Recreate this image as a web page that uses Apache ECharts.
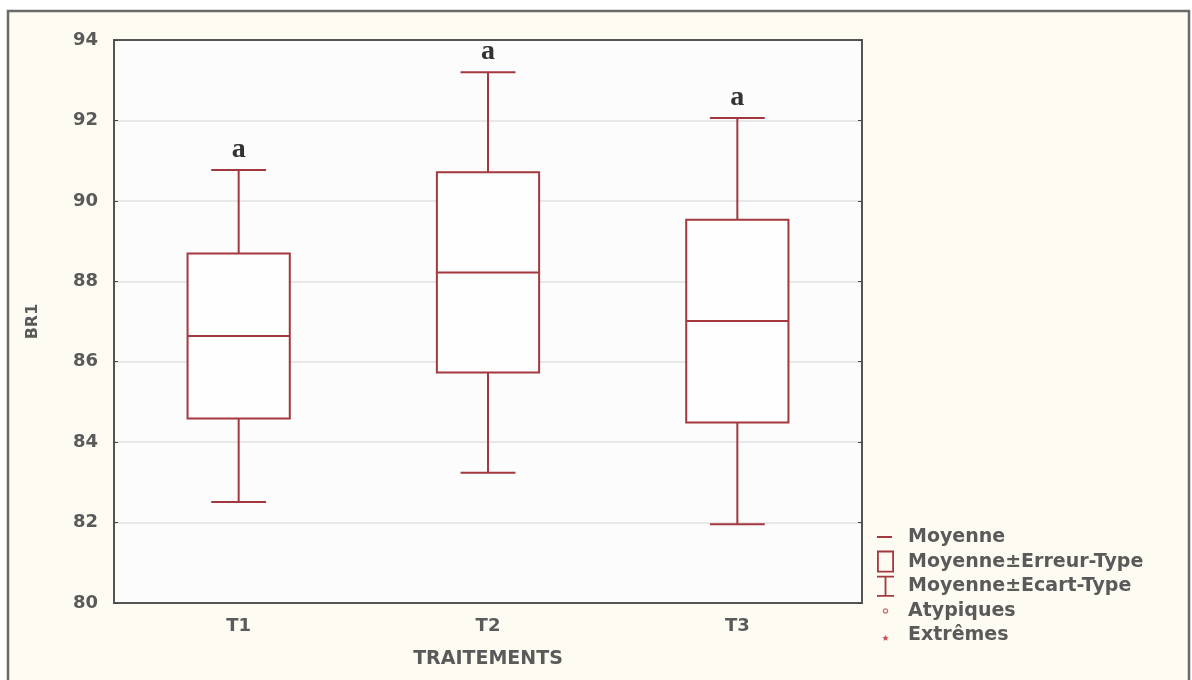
<!DOCTYPE html>
<html>
<head>
<meta charset="utf-8">
<style>
  html, body { margin: 0; padding: 0; background: #ffffff; }
  #chart { width: 1192px; height: 680px; }
</style>
<script src="https://cdn.jsdelivr.net/npm/echarts@6/dist/echarts.min.js"></script>
</head>
<body>
<div id="chart"></div>
<script>
// Treatments and their BR1 summary statistics
const categories = ['T1', 'T2', 'T3'];
const means = [86.64, 88.22, 87.01];        // Moyenne
const stdErrors = [2.05, 2.49, 2.52];       // Erreur-Type
const stdDevs = [4.13, 4.98, 5.05];         // Ecart-Type
const groupLetters = ['a', 'a', 'a'];       // significance groups
const yTicks = { min: 80, max: 94, step: 2 };

const RED = '#a3393f';
const LINE_W = 2;
const TEXT_FONT = '"DejaVu Sans", Verdana, sans-serif';
const TEXT_COLOR = '#5a5a5a';
const FRAME = { color: '#555555', width: 2 };

// Derived tables for the custom series
const whiskerData = categories.map((c, i) => [i, means[i] - stdDevs[i], means[i] + stdDevs[i]]);
const boxData = categories.map((c, i) => [i, means[i] - stdErrors[i], means[i] + stdErrors[i]]);
const meanData = categories.map((c, i) => [i, means[i]]);

function renderWhisker(params, api) {
  const i = api.value(0);
  const lo = api.coord([i, api.value(1)]);
  const hi = api.coord([i, api.value(2)]);
  const band = api.size([1, 0])[0];
  const cap = band * 0.22;
  const x = lo[0];
  const ls = { stroke: RED, lineWidth: LINE_W };
  return {
    type: 'group',
    children: [
      { type: 'line', shape: { x1: x, y1: lo[1], x2: x, y2: hi[1] }, style: ls },
      { type: 'line', shape: { x1: x - cap / 2, y1: lo[1], x2: x + cap / 2, y2: lo[1] }, style: ls },
      { type: 'line', shape: { x1: x - cap / 2, y1: hi[1], x2: x + cap / 2, y2: hi[1] }, style: ls },
      {
        type: 'text',
        style: {
          text: groupLetters[i], x: x, y: hi[1] - 6,
          align: 'center', verticalAlign: 'bottom',
          font: 'bold 28px "Liberation Serif", "DejaVu Serif", serif',
          fill: '#333333'
        }
      }
    ]
  };
}

function renderBox(params, api) {
  const i = api.value(0);
  const lo = api.coord([i, api.value(1)]);
  const hi = api.coord([i, api.value(2)]);
  const band = api.size([1, 0])[0];
  const w = band * 0.41;
  return {
    type: 'rect',
    shape: { x: lo[0] - w / 2, y: hi[1], width: w, height: lo[1] - hi[1] },
    style: { fill: '#fefefe', stroke: RED, lineWidth: LINE_W }
  };
}

function renderMean(params, api) {
  const i = api.value(0);
  const p = api.coord([i, api.value(1)]);
  const band = api.size([1, 0])[0];
  const w = band * 0.41;
  return {
    type: 'line',
    shape: { x1: p[0] - w / 2, y1: p[1], x2: p[0] + w / 2, y2: p[1] },
    style: { stroke: RED, lineWidth: LINE_W }
  };
}

// Legend glyphs (18 x 22 box, corners pinned with moveTo so shapes keep their size)
const ICON_MEAN = 'path://M0,0M0,10H15V12H0ZM18,22';
const ICON_BOX = 'path://M0,0M0,0H17V22H0ZM1.8,1.8V20.2H15.2V1.8ZM18,22';
const ICON_SD = 'path://M0,0M0,0.5H17V2.3H9.4V19.7H17V21.5H0V19.7H7.6V2.3H0ZM18,22';
const ICON_OUT = 'path://M0,0M8.5,8.5A2.7,2.7,0,1,1,8.49,8.5ZM8.5,9.8A1.4,1.4,0,1,0,8.51,9.8ZM18,22';
const ICON_EXT = 'path://M0,0M8.5,10.5L9.6,12.6L11.7,13L10,14.3L10.4,16.4L8.5,15.3L6.6,16.4L7,14.3L5.3,13L7.4,12.6ZM18,22';

const chart = echarts.init(document.getElementById('chart'), null, { renderer: 'canvas' });

const axisFont = { fontFamily: TEXT_FONT, fontWeight: 'bold', fontSize: 18, color: TEXT_COLOR };

chart.setOption({
  backgroundColor: 'transparent',
  animation: false,
  graphic: [
    {
      type: 'rect', z: -10, silent: true,
      shape: { x: 8, y: 11, width: 1181, height: 680 },
      style: { fill: '#fdfbf2', stroke: '#6a6a6a', lineWidth: 2.5 }
    }
  ],
  grid: {
    left: 114, top: 40, right: 330, bottom: 77,
    show: true, backgroundColor: '#fcfcfd', borderColor: '#555555', borderWidth: 2
  },
  legend: {
    orient: 'vertical', left: 877, top: 526, padding: 0,
    itemWidth: 18, itemHeight: 22, itemGap: 2.6,
    textStyle: { fontFamily: TEXT_FONT, fontWeight: 'bold', fontSize: 19, color: TEXT_COLOR, padding: [0, 0, 0, 8] },
    selectedMode: false,
    data: [
      { name: 'Moyenne', icon: ICON_MEAN, itemStyle: { color: RED, borderWidth: 0 } },
      { name: 'Moyenne±Erreur-Type', icon: ICON_BOX, itemStyle: { color: RED, borderWidth: 0 } },
      { name: 'Moyenne±Ecart-Type', icon: ICON_SD, itemStyle: { color: RED, borderWidth: 0 } },
      { name: 'Atypiques', icon: ICON_OUT, itemStyle: { color: '#b05058', borderWidth: 0 } },
      { name: 'Extrêmes', icon: ICON_EXT, itemStyle: { color: '#c0283a', borderWidth: 0 } }
    ]
  },
  xAxis: [
    {
      type: 'category', data: categories, boundaryGap: true,
      name: 'TRAITEMENTS', nameLocation: 'middle', nameGap: 47,
      nameTextStyle: Object.assign({}, axisFont, { fontSize: 19 }),
      axisLine: { lineStyle: FRAME },
      axisTick: { inside: true, length: 3, alignWithLabel: true, lineStyle: { color: '#444' } },
      axisLabel: Object.assign({ margin: 14 }, axisFont),
      splitLine: { show: false }
    },
    {
      type: 'category', data: categories, position: 'top', boundaryGap: true,
      axisLine: { show: true, lineStyle: FRAME },
      axisTick: { inside: true, length: 3, alignWithLabel: true, lineStyle: { color: '#444' } },
      axisLabel: { show: false }
    }
  ],
  yAxis: [
    {
      type: 'value', min: yTicks.min, max: yTicks.max, interval: yTicks.step,
      name: 'BR1', nameLocation: 'middle', nameGap: 73, nameRotate: 90,
      nameTextStyle: Object.assign({}, axisFont, { fontSize: 16 }),
      axisLine: { show: true, lineStyle: FRAME },
      axisTick: { show: true, inside: true, length: 4, lineStyle: { color: '#444' } },
      axisLabel: Object.assign({ margin: 16 }, axisFont),
      splitLine: { show: true, lineStyle: { color: '#e2e2e2', width: 1.5 } }
    },
    {
      type: 'value', min: yTicks.min, max: yTicks.max, interval: yTicks.step, position: 'right',
      axisLine: { show: true, lineStyle: FRAME },
      axisTick: { show: true, inside: true, length: 4, lineStyle: { color: '#444' } },
      axisLabel: { show: false },
      splitLine: { show: false }
    }
  ],
  series: [
    {
      name: 'Moyenne±Ecart-Type', type: 'custom', renderItem: renderWhisker,
      data: whiskerData, encode: { x: 0, y: [1, 2] }, z: 2, color: RED
    },
    {
      name: 'Moyenne±Erreur-Type', type: 'custom', renderItem: renderBox,
      data: boxData, encode: { x: 0, y: [1, 2] }, z: 3, color: RED
    },
    {
      name: 'Moyenne', type: 'custom', renderItem: renderMean,
      data: meanData, encode: { x: 0, y: 1 }, z: 4, color: RED
    },
    { name: 'Atypiques', type: 'scatter', data: [], color: '#b05058' },
    { name: 'Extrêmes', type: 'scatter', data: [], color: '#c0283a' }
  ]
});
</script>
</body>
</html>
